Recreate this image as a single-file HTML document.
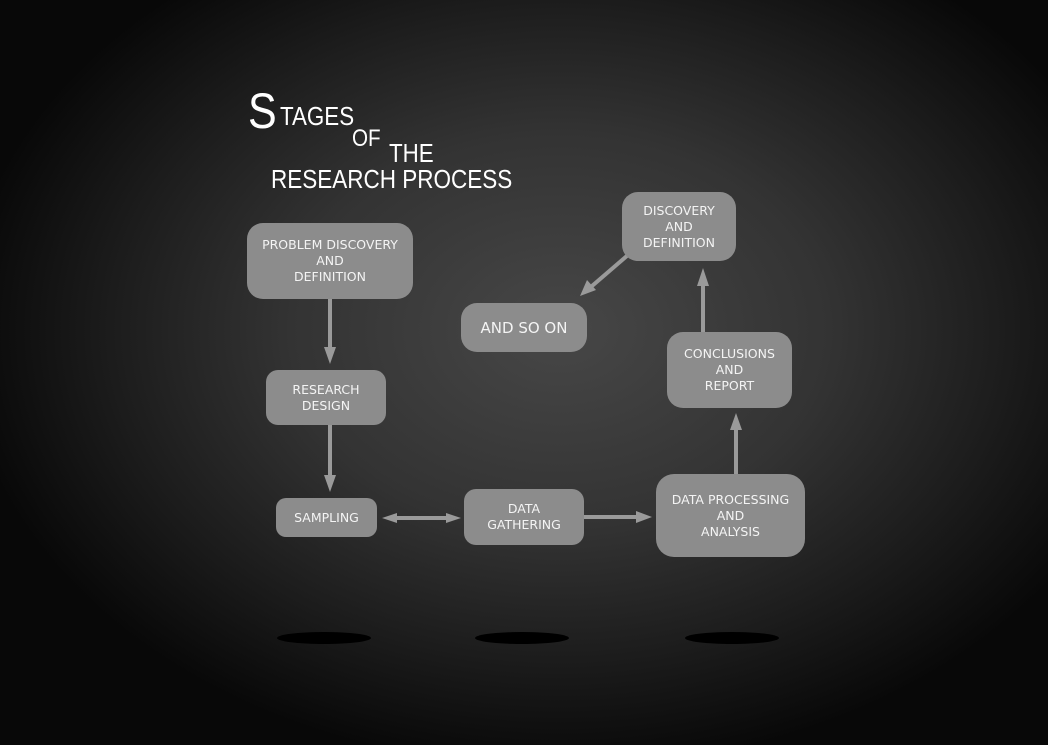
<!DOCTYPE html>
<html><head><style>
body{margin:0;width:1048px;height:745px;overflow:hidden;background:#000;}
#bg{position:absolute;left:0;top:0;width:1048px;height:745px;background:radial-gradient(ellipse 600px 440px at 560px 330px,#474747 0%,#333 45%,#1c1c1c 75%,#080808 100%);}
.b{position:absolute;background:#8c8c8c;border-radius:16px;color:#f4f4f4;font-family:"DejaVu Sans","Liberation Sans",sans-serif;font-size:12.5px;line-height:16px;text-align:center;display:flex;align-items:center;justify-content:center;}
.t{position:absolute;color:#fff;font-family:"Liberation Sans",sans-serif;transform-origin:0 0;transform:scaleX(0.86);white-space:nowrap;}
.sh{position:absolute;background:#000;border-radius:50%;height:12px;}
</style></head><body>
<div id="bg"></div>
<div class="t" style="left:248px;top:86px;font-size:50px;line-height:50px">S</div>
<div class="t" style="left:280px;top:101px;font-size:26px">TAGES</div>
<div class="t" style="left:352px;top:125px;font-size:24px">OF</div>
<div class="t" style="left:389px;top:138px;font-size:26px">THE</div>
<div class="t" style="left:271px;top:164px;font-size:26px;transform:scaleX(0.865)">RESEARCH PROCESS</div>
<svg width="1048" height="745" style="position:absolute;left:0;top:0">
<g stroke="#9a9a9a" stroke-width="4" fill="#9a9a9a">
<line x1="330" y1="299" x2="330" y2="350"/><polygon points="324,347 336,347 330,364" stroke="none"/>
<line x1="330" y1="425" x2="330" y2="478"/><polygon points="324,475 336,475 330,492" stroke="none"/>
<line x1="395" y1="518" x2="447" y2="518"/><polygon points="382,518 397,513 397,523" stroke="none"/><polygon points="461,518 446,513 446,523" stroke="none"/>
<line x1="584" y1="517" x2="638" y2="517"/><polygon points="652,517 636,511 636,523" stroke="none"/>
<line x1="736" y1="474" x2="736" y2="428"/><polygon points="730,430 742,430 736,413" stroke="none"/>
<line x1="703" y1="332" x2="703" y2="284"/><polygon points="697,286 709,286 703,268" stroke="none"/>
<line x1="628" y1="255" x2="592" y2="286"/><polygon points="580,296 587,280 596,290" stroke="none"/>
</g></svg>
<div class="b" style="left:247px;top:223px;width:166px;height:76px">PROBLEM DISCOVERY<br>AND<br>DEFINITION</div>
<div class="b" style="left:266px;top:370px;width:120px;height:55px;border-radius:12px">RESEARCH<br>DESIGN</div>
<div class="b" style="left:276px;top:498px;width:101px;height:39px;border-radius:10px">SAMPLING</div>
<div class="b" style="left:464px;top:489px;width:120px;height:56px;border-radius:12px">DATA<br>GATHERING</div>
<div class="b" style="left:656px;top:474px;width:149px;height:83px;border-radius:18px">DATA PROCESSING<br>AND<br>ANALYSIS</div>
<div class="b" style="left:667px;top:332px;width:125px;height:76px">CONCLUSIONS<br>AND<br>REPORT</div>
<div class="b" style="left:622px;top:192px;width:114px;height:69px">DISCOVERY<br>AND<br>DEFINITION</div>
<div class="b" style="left:461px;top:303px;width:126px;height:49px;font-size:15px">AND SO ON</div>
<div class="sh" style="left:277px;top:632px;width:94px"></div>
<div class="sh" style="left:475px;top:632px;width:94px"></div>
<div class="sh" style="left:685px;top:632px;width:94px"></div>
</body></html>
